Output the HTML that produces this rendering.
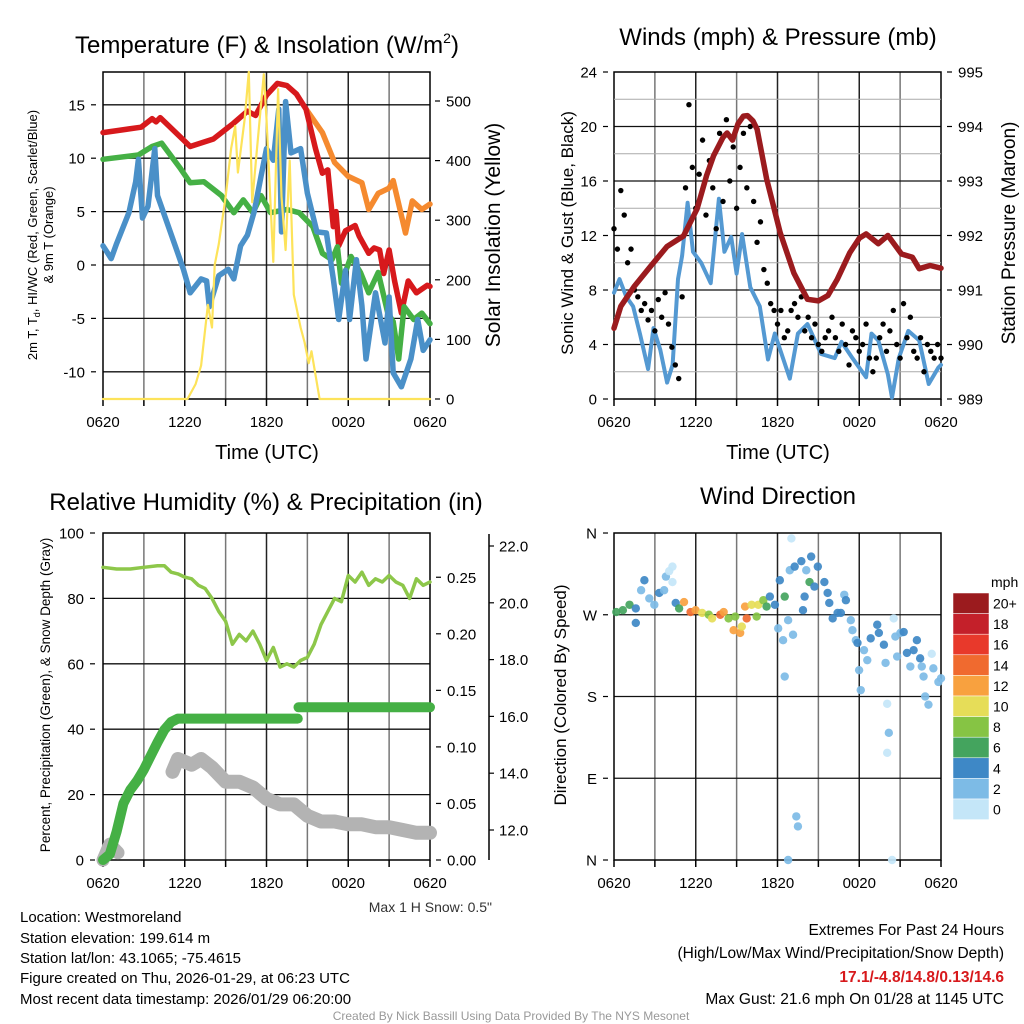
<!DOCTYPE html>
<html><head><meta charset="utf-8"><style>
html,body{margin:0;padding:0;background:#fff;}
svg{display:block;font-family:"Liberation Sans",sans-serif;}
</style></head><body>
<svg id="chart" width="1024" height="1024" viewBox="0 0 1024 1024" xmlns="http://www.w3.org/2000/svg">
<g id="g1"></g>
<g id="g2"></g>
<g id="g3"></g>
<g id="g4"></g>
<g font-size="24" text-anchor="middle">
<text x="267" y="53">Temperature (F) &amp; Insolation (W/m<tspan font-size="14" dy="-10">2</tspan><tspan dy="10">)</tspan></text>
<text x="778" y="45">Winds (mph) &amp; Pressure (mb)</text>
<text x="266" y="510">Relative Humidity (%) &amp; Precipitation (in)</text>
<text x="778" y="504">Wind Direction</text>
</g>
<g font-size="20" text-anchor="middle">
<text x="267" y="459">Time (UTC)</text>
<text x="778" y="459">Time (UTC)</text>
<text transform="translate(500,235) rotate(-90)" font-size="21">Solar Insolation (Yellow)</text>
<text transform="translate(573,233) rotate(-90)" font-size="17">Sonic Wind &amp; Gust (Blue, Black)</text>
<text transform="translate(1015,233) rotate(-90)" font-size="19">Station Pressure (Maroon)</text>
<text transform="translate(566,695) rotate(-90)" font-size="17">Direction (Colored By Speed)</text>
<text transform="translate(50,695) rotate(-90)" font-size="13.5">Percent, Precipitation (Green), &amp; Snow Depth (Gray)</text>
<text transform="translate(37,235) rotate(-90)" font-size="13">2m T, T<tspan font-size="9" dy="3">d</tspan><tspan dy="-3">, HI/WC (Red, Green, Scarlet/Blue)</tspan></text>
<text transform="translate(53,235) rotate(-90)" font-size="13">&amp; 9m T (Orange)</text>
</g>
<g font-size="15">
<text x="20" y="922">Location: Westmoreland</text>
<text x="20" y="943">Station elevation: 199.614 m</text>
<text x="20" y="963">Station lat/lon: 43.1065; -75.4615</text>
<text x="20" y="983">Figure created on Thu, 2026-01-29, at 06:23 UTC</text>
<text x="20" y="1004">Most recent data timestamp: 2026/01/29 06:20:00</text>
</g>
<text x="492" y="912" font-size="14" text-anchor="end" fill="#333">Max 1 H Snow: 0.5"</text>
<g font-size="15.5" text-anchor="end">
<text x="1004" y="935">Extremes For Past 24 Hours</text>
<text x="1004" y="958">(High/Low/Max Wind/Precipitation/Snow Depth)</text>
<text x="1004" y="982" fill="#d7191c" font-weight="bold">17.1/-4.8/14.8/0.13/14.6</text>
<text x="1004" y="1004">Max Gust: 21.6 mph On 01/28 at 1145 UTC</text>
</g>
<text x="511" y="1020" font-size="12" fill="#999" text-anchor="middle">Created By Nick Bassill Using Data Provided By The NYS Mesonet</text>
</svg>
<script>
const NS="http://www.w3.org/2000/svg";
// ---------- data ----------
const xLabels=["0620","1220","1820","0020","0620"];
const tempTicks=[15,10,5,0,-5,-10];
const solarTicks=[0,100,200,300,400,500];
const redT=[0,2.8,3.6,3.9,4.2,6.4,8.1,9.6,10.6,11.2,12.0,12.8,13.5,14.2,14.9,15.6,16.1,16.5,16.9,17.1,17.3,17.8,18.5,18.8,19.5,19.9,20.3,20.6,21.0,21.4,21.9,22.4,23.0,23.8,24];
const redV=[12.4,12.9,13.7,13.4,13.8,11.1,11.8,13.3,14.4,14.0,15.9,17.0,16.8,16.0,14.6,10.9,8.6,8.9,3.6,5.0,1.8,3.2,3.7,2.7,1.1,1.6,1.4,-0.8,1.4,-1.5,-4.5,-1.5,-2.6,-1.9,-2.0];
const orangeT=[14.9,16.1,17.0,18.0,19.0,19.5,20.2,21.0,21.3,22.2,22.7,23.4,24];
const orangeV=[14.6,12.4,9.6,8.3,7.7,5.2,6.7,7.2,7.9,3.0,6.0,5.2,5.7];
const greenT=[0,2.6,3.6,4.3,5.7,6.4,7.4,8.7,9.6,10.3,11.0,11.6,12.3,13.5,14.4,15.4,16.1,16.8,17.2,17.5,18.2,18.9,19.5,20.2,20.9,21.3,21.7,22.1,22.8,23.4,24];
const greenV=[9.9,10.3,11.1,11.4,9.0,7.7,7.8,6.5,4.9,6.1,4.9,6.5,4.9,5.2,4.9,3.6,1.1,0.5,1.7,-1.7,0.8,-0.7,-2.6,-0.7,-4.5,-5.3,-8.8,-3.9,-5.1,-4.5,-5.5];
const blueT=[0,0.6,1.0,1.9,2.4,2.6,2.9,3.3,3.8,4.0,5.3,5.9,6.4,7.2,7.6,7.8,8.5,9.2,9.6,10.1,10.6,11.1,11.6,12.0,12.5,12.9,13.1,13.4,13.8,14.5,15.0,15.7,16.4,16.9,17.3,17.8,18.1,18.6,19.0,19.3,20.0,20.7,21.0,21.3,21.9,22.6,23.1,23.5,24];
const blueV=[1.8,0.6,2.0,4.9,7.8,9.9,4.4,5.5,10.9,6.5,1.8,-0.4,-2.6,-1.3,-1.5,-3.9,-1.0,-0.4,-1.3,1.8,2.8,5.0,8.3,10.9,9.8,14.6,3.1,15.3,10.5,10.9,6.7,3.1,3.0,-1.3,-5.1,-0.5,-5.1,0.5,-3.8,-8.8,-2.6,-7.3,-3.0,-10.1,-11.4,-8.8,-5.1,-8.0,-7.0];
const solarT=[0,6.2,6.8,7.2,7.7,8.0,8.2,8.5,9.0,9.4,9.7,9.9,10.4,10.7,10.95,11.3,11.8,12.0,12.5,12.85,13.1,13.4,13.7,14.0,14.5,14.8,15.1,15.3,15.9,24];
const solarV=[0,0,25,56,158,120,225,260,339,420,458,380,470,552,330,420,545,470,230,520,340,250,400,175,120,95,60,80,0,0];
const windTicks=[0,4,8,12,16,20,24];
const presTicks=[989,990,991,992,993,994,995];
const presT=[0,0.5,1.5,2.7,3.9,5.1,6.1,6.8,7.3,8.0,8.3,8.7,9.1,9.5,9.8,10.2,10.5,11.2,12.2,13.2,14.2,15.0,15.7,16.4,17.3,18.0,18.5,19.4,20.1,21.1,21.9,22.4,23.2,24];
const presV=[990.3,990.7,991.07,991.44,991.8,991.99,992.49,993.1,993.46,993.8,993.88,993.75,994.05,994.19,994.2,994.1,993.95,993.04,992.05,991.31,990.83,990.8,990.9,991.2,991.68,991.95,992.03,991.85,992.0,991.66,991.6,991.39,991.45,991.4];
const windT=[0,0.4,0.9,1.4,1.9,2.5,2.9,3.4,3.9,4.3,4.7,5.0,5.4,5.8,6.4,7.1,7.7,8.1,8.6,9.0,9.4,10.0,10.7,11.3,11.8,12.3,12.9,13.5,14.2,15.2,16.2,16.7,17.5,18.5,18.9,19.4,20.1,20.4,20.9,21.6,22.4,23.1,23.8,24];
const windV=[7.8,8.8,7.5,6.8,4.8,2.2,5.2,3.6,1.2,2.5,8.8,10.5,14.4,10.8,10.0,8.5,14.7,10.8,11.9,9.2,12.1,8.2,6.8,2.9,4.8,3.3,1.5,4.8,5.5,3.3,3.0,4.2,3.0,1.6,4.8,4.3,1.8,0.1,3.0,5.0,4.3,1.1,2.3,2.5];
const gustV=[12.5,11,15.3,13.5,10,11,8,7.5,6.5,7,5.8,6.5,5,7.3,6.0,7.8,5.5,3.8,2.5,1.5,7.5,15.5,21.6,17,14,16.5,19,13.5,17.5,15.5,12.5,19.5,14.5,20.5,16,18.5,14,17,19.5,15.5,20,14.5,11.5,13,9.5,8.5,7,6.5,5.5,6.5,4.5,5,6.5,7,6,7.5,5,6,4.5,5.5,4,3.5,4.5,5,6,4.5,3.5,5.5,4,2.5,5,4.5,3.5,4,5.5,3,2,3,4.5,5.5,3.5,5,6.5,4,3,7,4.5,6,3.5,3,4.5,2,4,3.5,3,4,3];
const gustStep=0.25;
const rhTicks=[0,20,40,60,80,100];
const precipTicks=[0,0.05,0.10,0.15,0.20,0.25];
const snowTicks=[12,14,16,18,20,22];
const rhT=[0,1,2,3,4,4.5,5,5.5,6,6.5,7,7.5,8,8.5,9,9.5,10,10.5,11,11.5,12,12.5,13,13.5,14,14.5,15,15.5,16,16.5,17,17.5,18,18.5,19,19.5,20,20.5,21,21.5,22,22.5,23,23.5,24];
const rhV=[89.5,89,89,89.5,90,90,88,87.5,86.5,86,84,83,80,76,73,66,69,67,70,66,61,65,59,60,59,61,62,66,72,76,80,79,87,85,88,84,86,85,87,85,84,80,86,84,85];
const precipT=[0,0.5,1.0,1.5,2.0,2.5,3.0,3.5,4.0,4.5,5.0,5.5,14.3,14.35,24];
const precipV=[0,0.005,0.025,0.05,0.062,0.07,0.08,0.092,0.104,0.115,0.122,0.125,0.125,0.135,0.135];
const snowT1=[0,0.5,1.1];
const snowV1=[10.94,11.5,11.2];
const snowT2=[5.1,5.5,6.0,6.5,7.2,8.0,9.0,10.0,11.0,12.0,13.0,14.0,15.0,16.0,17.0,18.0,19.0,20.0,21.0,22.0,23.0,24.0];
const snowV2=[14.05,14.5,14.4,14.3,14.5,14.2,13.7,13.7,13.5,13.1,12.9,12.9,12.5,12.3,12.3,12.2,12.2,12.1,12.1,12.0,11.9,11.9];
const dirLabels=["N","W","S","E","N"];
const dirTicks=[360,270,180,90,0];
const dirT=[0.17,0.65,1.14,1.6,1.6,1.99,2.23,2.59,2.96,3.32,3.68,3.81,4.05,4.29,4.29,4.53,4.78,5.14,5.62,5.99,6.47,6.96,7.2,7.8,8.05,8.41,8.78,8.9,9.26,9.38,9.62,9.74,10.1,10.47,10.59,10.96,11.2,11.44,11.81,12.05,12.17,12.41,12.53,12.53,12.78,12.9,13.02,13.14,13.26,13.38,13.5,13.75,13.87,13.99,14.11,14.35,14.47,14.71,14.96,15.44,15.68,15.8,16.05,16.41,16.65,16.9,17.02,17.38,17.5,17.75,17.87,17.99,18.11,18.35,18.59,18.84,19.32,19.44,19.81,19.93,20.05,20.17,20.05,20.41,20.53,20.65,20.78,21.02,21.26,21.5,21.75,21.99,22.23,22.47,22.59,22.72,22.84,23.08,23.32,23.44,23.81,24,12.78];
const dirV=[273,275,281,277,261,297,308,288,281,294,297,312,318,323,306,283,277,284,273,275,272,270,266,270,273,266,253,268,250,257,279,266,281,268,281,286,279,290,281,255,308,242,290,202,264,319,354,248,323,48,37,329,275,290,319,306,334,301,323,306,294,283,266,272,272,292,286,264,253,242,239,209,187,231,220,244,259,250,237,217,172,140,118,0,266,246,224,250,251,228,213,231,242,222,213,202,180,171,227,211,196,200,0];
const dirS=[6,7,7,5,5,3,4,3,3,4,3,2,1,0,0,4,7,12,15,13,10,9,10,14,13,8,12,9,12,10,12,15,10,8,10,8,7,5,4,3,4,2,6,2,2,2,0,2,4,2,2,4,4,4,3,6,4,4,4,4,4,4,4,4,4,3,4,3,2,2,4,2,2,2,2,4,4,4,4,2,1,2,1,1,1,2,2,2,4,4,2,4,4,4,2,2,2,2,1,2,2,2,2];
const cbLabels=["20+","18","16","14","12","10","8","6","4","2","0"];
const cbColors=["#9b1b1e","#c4202a","#e8392b","#f06a2f","#f8a13f","#e6dd58","#86c444","#44a45e","#3e88c6","#7dbbe6","#c4e6f8"];
// ---------- helpers ----------
function el(tag,attrs,parent){const e=document.createElementNS(NS,tag);for(const k in attrs)e.setAttribute(k,attrs[k]);parent.appendChild(e);return e;}
function pathD(ts,vs,sx,sy){return ts.map((t,i)=>(i?"L":"M")+sx(t).toFixed(1)+","+sy(vs[i]).toFixed(1)).join("");}
function frame(g,x0,x1,y0,y1,hticks,sy,labOff){
  for(let h=3;h<24;h+=3){const x=x0+(x1-x0)*h/24;const l=el("line",{x1:x,x2:x,y1:y0,y2:y1,stroke:h%6?"#777":"#222","stroke-width":1.5},g);}
  hticks.forEach(v=>{const y=sy(v);if(y>y0+1&&y<y1-1){const l=el("line",{x1:x0,x2:x1,y1:y,y2:y,stroke:"#111","stroke-width":1.3},g);}});
  const r=el("rect",{x:x0,y:y0,width:x1-x0,height:y1-y0,fill:"none",stroke:"#000","stroke-width":1.5},g);
  
  xLabels.forEach((s,i)=>{const x=x0+(x1-x0)*i/4;const t=el("text",{x:x,y:y1+labOff,"font-size":15,"text-anchor":"middle"},g);t.textContent=s;
    el("line",{x1:x,x2:x,y1:y1,y2:y1+7,stroke:"#000","stroke-width":1.5},g);});
  for(let h=3;h<24;h+=6){const x=x0+(x1-x0)*h/24;el("line",{x1:x,x2:x,y1:y1,y2:y1+7,stroke:"#000","stroke-width":1.5},g);}
}
function yLabels(g,ticks,sy,x,anchor,fmt,size,names){ticks.forEach((v,i)=>{const t=el("text",{x:x,y:sy(v)+5.5,"font-size":size||15,"text-anchor":anchor},g);t.textContent=names?names[i]:(fmt?fmt(v):v);
  const xx=anchor=="end"?x+6:x-6;el("line",{x1:xx,x2:xx+(anchor=="end"?5:-5),y1:sy(v),y2:sy(v),stroke:"#000","stroke-width":1.2},g);});}
function line(g,d,color,w,name){const p=el("path",{d:d,fill:"none",stroke:color,"stroke-width":w,"stroke-linejoin":"round","stroke-linecap":"round"},g);return p;}
function spColor(s){return cbColors[10-Math.min(10,Math.floor(s/2))];}
// ---------- panel 1 ----------
(function(){const g=document.getElementById("g1");const x0=103,x1=430,y0=72,y1=399;
 const sx=t=>x0+(x1-x0)*t/24, sy=v=>265-v*10.68, ss=v=>399-v*0.596;
 frame(g,x0,x1,y0,y1,tempTicks,sy,28);
 yLabels(g,tempTicks,sy,85,"end");
 yLabels(g,solarTicks,ss,446,"start");
 line(g,pathD(orangeT,orangeV,sx,sy),"#f58a2f",5.5,"9m-temperature-line");
 line(g,pathD(redT,redV,sx,sy),"#d7191c",5.5,"temperature-line");
 line(g,pathD(greenT,greenV,sx,sy),"#45b045",5.5,"dewpoint-line");
 line(g,pathD(blueT,blueV,sx,sy),"#4a90c8",5.5,"windchill-line");
 line(g,pathD(solarT,solarV.map(v=>Math.min(v,549)),sx,ss),"#fde35a",2.2,"insolation-line");
})();
// ---------- panel 2 ----------
(function(){const g=document.getElementById("g2");const x0=614,x1=941,y0=72,y1=399;
 const sx=t=>x0+(x1-x0)*t/24, sy=v=>399-v*13.625, sp=p=>399-(p-989)*54.5;
 frame(g,x0,x1,y0,y1,windTicks,sy,28);
 [2,6,10,14,18,22].forEach(v=>el("line",{x1:x0,x2:x1,y1:sy(v),y2:sy(v),stroke:"#aaa","stroke-width":1},g));
 yLabels(g,windTicks,sy,597,"end");
 yLabels(g,presTicks,sp,958,"start");
 line(g,pathD(windT,windV,sx,sy),"#5499d2",4,"wind-speed-line");
 gustV.forEach((v,i)=>{const c=el("circle",{cx:sx(i*gustStep),cy:sy(v),r:2.7,fill:"#000"},g);});
 line(g,pathD(presT,presV,sx,sp),"#9b1b1e",5.5,"pressure-line");
})();
// ---------- panel 3 ----------
(function(){const g=document.getElementById("g3");const x0=103,x1=430,y0=533,y1=860;
 const sx=t=>x0+(x1-x0)*t/24, sy=v=>860-v*3.27, spr=v=>860-v*1131, ssn=v=>830-(v-12)*28.4;
 frame(g,x0,x1,y0,y1,rhTicks,sy,28);
 yLabels(g,rhTicks,sy,84,"end");
 yLabels(g,precipTicks,spr,447,"start",v=>v.toFixed(2));
 el("line",{x1:489,x2:489,y1:534,y2:860,stroke:"#000","stroke-width":1.5},g);
 snowTicks.forEach(v=>{el("line",{x1:489,x2:494,y1:ssn(v),y2:ssn(v),stroke:"#000","stroke-width":1.2},g);const t=el("text",{x:499,y:ssn(v)+5.5,"font-size":15},g);t.textContent=v.toFixed(1);});
 line(g,pathD(snowT1,snowV1,sx,ssn),"#b3b3b3",13,"snow-depth-line-start");
 line(g,pathD(snowT2,snowV2,sx,ssn),"#b3b3b3",14,"snow-depth-line");
 const p1=precipT.slice(0,13),v1=precipV.slice(0,13),p2=precipT.slice(13),v2=precipV.slice(13);
 line(g,pathD(p1,v1,sx,spr),"#45b045",10,"precip-line");
 line(g,pathD(p2,v2,sx,spr),"#45b045",10,"precip-line-2");
 line(g,pathD(rhT,rhV,sx,sy),"#8dc74a",3.5,"humidity-line");
})();
// ---------- panel 4 ----------
(function(){const g=document.getElementById("g4");const x0=614,x1=941,y0=533,y1=860;
 const sx=t=>x0+(x1-x0)*t/24, sy=v=>860-v*0.9083;
 frame(g,x0,x1,y0,y1,dirTicks,sy,28);
 yLabels(g,dirTicks,sy,597,"end",null,15,dirLabels);
 dirT.forEach((t,i)=>{const c=el("circle",{cx:sx(t),cy:sy(dirV[i]),r:4.2,fill:spColor(dirS[i]),"fill-opacity":0.92},g);});
 const cb=el("g",{},g);
 const u=el("text",{x:991,y:587,"font-size":14},cb);u.textContent="mph";
 cbColors.forEach((c,i)=>{const y=593+i*20.6;el("rect",{x:953,y:y,width:36,height:20.6,fill:c,stroke:"#fff","stroke-width":0.5},cb);
  const t=el("text",{x:993,y:y+15.5,"font-size":14},cb);t.textContent=cbLabels[i];});
})();
</script>
</body></html>
